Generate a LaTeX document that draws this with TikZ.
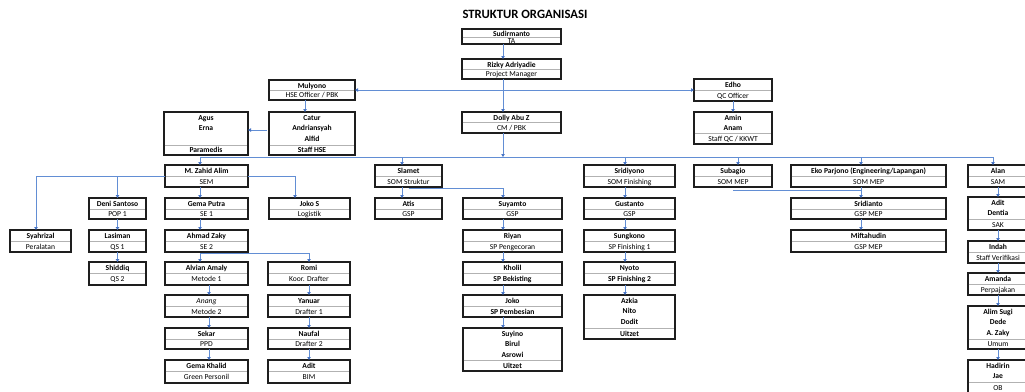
\documentclass[tikz,border=0pt]{standalone}
\usepackage{fontspec}
\setmainfont{Carlito}
\usetikzlibrary{arrows.meta}
\definecolor{conn}{RGB}{98,142,212}
\definecolor{tipc}{RGB}{68,114,196}
\definecolor{bord}{RGB}{30,30,30}
\tikzset{
 obx/.style={draw=bord, line width=1.2pt, fill=white, inner sep=0pt, outer sep=0pt, rectangle},
 splitln/.style={draw=gray!60, line width=0.6pt},
 toptxt/.style={anchor=north, align=center, inner sep=0pt, font=\bfseries\fontsize{7.6}{10.6}\selectfont},
 bottxt/.style={anchor=base, inner sep=0pt, font=\fontsize{7.6}{8.5}\selectfont},
 cn/.style={draw=conn, line width=0.7pt},
 ar/.style={cn, -{Triangle[width=3.4pt,length=3pt,color=tipc]}},
 ttl/.style={font=\bfseries\fontsize{12.7}{14}\selectfont, inner sep=0pt}
}
\def\topoff{1.8}
\newcommand\obox[8]{%
  \node[obx, minimum width={(#4-#2)*1pt}, minimum height={(#5-#3)*1pt}] (#1) at ({(#2+#4)/2},{(#3+#5)/2}) {};
  \draw[splitln] ({#2+0.6},#6) -- ({#4-0.6},#6);
  \node[toptxt] (#1t) at ({(#2+#4)/2},{#3+\topoff}) {\rule{0pt}{6pt}#7};
  \node[bottxt] (#1b) at ({(#2+#4)/2},{(#6+#5)/2+2.5}) {#8};
}
\begin{document}
\begin{tikzpicture}[x=1pt,y=-1pt]
\path[use as bounding box] (0,0) rectangle (1025,391);
\clip (0,0) rectangle (1025,391);

\node[ttl] (title) at (525,14) {STRUKTUR ORGANISASI};

% top
\def\topoff{0.9}
\obox{sud}{462}{29}{561}{44}{37}{Sudirmanto}{TA}
\def\topoff{1.8}
\obox{rizky}{462}{59}{561}{79}{69}{Rizky Adriyadie}{Project Manager}
\obox{mul}{269}{80}{355}{100}{90}{Mulyono}{HSE Officer / PBK}
\obox{edho}{694}{79}{772}{101}{90}{Edho}{QC Officer}
\obox{catur}{269}{112}{355}{155}{145}{Catur\\Andriansyah\\Alfid}{\textbf{Staff HSE}}
\obox{agus}{164}{112}{248}{155}{145}{Agus\\Erna}{\textbf{Paramedis}}
\obox{dolly}{462}{112}{561}{133}{122}{Dolly Abu Z}{CM / PBK}
\obox{amin}{694}{112}{772}{144}{133}{Amin\\Anam}{Staff QC / KKWT}

% row 2
\obox{zahid}{165}{165}{248}{187}{176}{M. Zahid Alim}{SEM}
\obox{slamet}{375}{165}{442}{187}{176}{Slamet}{SOM Struktur}
\obox{sridiyono}{584}{165}{675}{187}{176}{Sridiyono}{SOM Finishing}
\obox{subagio}{694}{165}{772}{187}{176}{Subagio}{SOM MEP}
\obox{eko}{791}{165}{946}{187}{176}{Eko Parjono (Engineering/Lapangan)}{SOM MEP}
\obox{alan}{968}{165}{1028}{187}{176}{Alan}{SAM}

% row 3
\obox{deni}{89}{198}{146}{219}{209}{Deni Santoso}{POP 1}
\obox{gema}{165}{198}{248}{219}{209}{Gema Putra}{SE 1}
\obox{jokos}{269}{198}{350}{219}{209}{Joko S}{Logistik}
\obox{atis}{375}{198}{442}{219}{209}{Atis}{GSP}
\obox{suyamto}{463}{198}{562}{219}{209}{Suyamto}{GSP}
\obox{gustanto}{584}{198}{675}{219}{209}{Gustanto}{GSP}
\obox{sridianto}{791}{198}{946}{219}{209}{Sridianto}{GSP MEP}
\obox{adit}{968}{197}{1028}{230}{219}{Adit\\Dentia}{SAK}

% row 4
\obox{syahrizal}{10}{230}{71}{252}{241}{Syahrizal}{Peralatan}
\obox{lasiman}{89}{230}{146}{252}{241}{Lasiman}{QS 1}
\obox{ahmad}{165}{230}{248}{252}{241}{Ahmad Zaky}{SE 2}
\obox{riyan}{463}{230}{562}{252}{241}{Riyan}{SP Pengecoran}
\obox{sungkono}{584}{230}{675}{252}{241}{Sungkono}{SP Finishing 1}
\obox{miftahudin}{791}{230}{946}{252}{241}{Miftahudin}{GSP MEP}
\obox{indah}{968}{241}{1028}{263}{252}{Indah}{Staff Verifikasi}

% row 5
\obox{shiddiq}{89}{262}{146}{285}{273}{Shiddiq}{QS 2}
\obox{alvian}{165}{262}{248}{285}{273}{Alvian Amaly}{Metode 1}
\obox{romi}{268}{262}{350}{285}{273}{Romi}{Koor. Drafter}
\obox{kholil}{463}{262}{562}{285}{273}{Kholil}{\textbf{SP Bekisting}}
\obox{nyoto}{584}{262}{675}{285}{273}{Nyoto}{\textbf{SP Finishing 2}}
\obox{amanda}{968}{273}{1028}{295}{284}{Amanda}{Perpajakan}

% row 6
\obox{anang}{165}{295}{248}{317}{306}{\mdseries\itshape Anang}{Metode 2}
\obox{yanuar}{268}{295}{350}{317}{306}{Yanuar}{Drafter 1}
\obox{joko}{463}{295}{562}{317}{306}{Joko}{\textbf{SP Pembesian}}
\obox{azkia}{584}{295}{675}{339}{328}{Azkia\\Nito\\Dodit}{\textbf{Uitzet}}
\obox{alim}{968}{306}{1028}{349}{339}{Alim Sugi\\Dede\\A. Zaky}{Umum}

% row 7
\obox{sekar}{165}{328}{248}{349}{339}{Sekar}{PPD}
\obox{naufal}{268}{328}{350}{349}{339}{Naufal}{Drafter 2}
\obox{suyino}{463}{328}{562}{371}{360}{Suyino\\Birul\\Asrowi}{\textbf{Uitzet}}

% row 8
\obox{gemak}{165}{360}{248}{383}{371}{Gema Khalid}{Green Personil}
\obox{adit2}{268}{360}{350}{383}{371}{Adit}{BIM}
\obox{hadirin}{968}{360}{1028}{393}{382}{Hadirin\\Jae}{OB}

% reference coordinates
\coordinate (spine) at (503,0);
\coordinate (bus) at (0,157);
\coordinate (cH) at (305,0);
\coordinate (cZ) at (200,0);
\coordinate (cZb) at (209,0);
\coordinate (cSy) at (36,0);
\coordinate (cJ) at (295,0);
\coordinate (cS) at (402,0);
\coordinate (cF) at (625,0);
\coordinate (cSb) at (738,0);
\coordinate (cE) at (861,0);
\coordinate (cA) at (993,0);

% connectors top
\draw[ar] (spine |- sud.south) -- (spine |- rizky.north);
\draw[ar] (spine |- rizky.south) -- (spine |- dolly.north);
\draw[ar] (spine |- mul.east) -- (mul.east);
\draw[ar] (spine |- edho.west) -- (edho.west);
\draw[ar] (cH |- mul.south) -- (cH |- catur.north);
\draw[ar] ([xshift=-2pt,yshift=3.5pt]catur.west) -- ([yshift=3.5pt]agus.east);
\draw[ar] (edho.south) -- (amin.north);

% bus
\draw[cn] (cZ |- bus) -- (cA |- bus);
\draw[ar] (spine |- dolly.south) -- (spine |- bus);
\draw[ar] (cZ |- bus) -- (cZ |- zahid.north);
\draw[ar] (cS |- bus) -- (cS |- slamet.north);
\draw[ar] (cF |- bus) -- (cF |- sridiyono.north);
\draw[ar] (cSb |- bus) -- (cSb |- subagio.north);
\draw[ar] (cE |- bus) -- (cE |- eko.north);
\draw[ar] (cA |- bus) -- (cA |- alan.north);

% zahid branch
\draw[ar] (zahid.west) -| (cSy |- syahrizal.north);
\draw[ar] (deni.north |- zahid.west) -- (deni.north);
\draw[ar] (zahid.east) -| (cJ |- jokos.north);
\draw[ar] (cZ |- zahid.south) -- (cZ |- gema.north);
\draw[ar] (deni.south) -- (lasiman.north);
\draw[ar] (lasiman.south) -- (shiddiq.north);
\draw[ar] (cZ |- gema.south) -- (cZ |- ahmad.north);
\draw[ar] ([yshift=-1pt]cZ |- ahmad.south) -- (cZ |- alvian.north);
\draw[ar] ([yshift=-1pt]cZ |- ahmad.south) -| (romi.north);
\draw[ar] (cZb |- alvian.south) -- (cZb |- anang.north);
\draw[ar] (cZb |- anang.south) -- (cZb |- sekar.north);
\draw[ar] (cZb |- sekar.south) -- (cZb |- gemak.north);
\draw[ar] (romi.south) -- (yanuar.north);
\draw[ar] (yanuar.south) -- (naufal.north);
\draw[ar] (naufal.south) -- (adit2.north);

% slamet branch
\draw[ar] (cS |- slamet.south) -- (cS |- atis.north);
\draw[ar] ([yshift=-1pt]slamet.south) -| (spine |- suyamto.north);
\draw[ar] (spine |- suyamto.south) -- (spine |- riyan.north);
\draw[ar] (spine |- riyan.south) -- (spine |- kholil.north);
\draw[ar] (spine |- kholil.south) -- (spine |- joko.north);
\draw[ar] (spine |- joko.south) -- (spine |- suyino.north);

% sridiyono branch
\draw[ar] (cF |- sridiyono.south) -- (cF |- gustanto.north);
\draw[ar] (cF |- gustanto.south) -- (cF |- sungkono.north);
\draw[ar] (cF |- sungkono.south) -- (cF |- nyoto.north);
\draw[ar] (cF |- nyoto.south) -- (cF |- azkia.north);

% MEP
\draw[cn] ([yshift=-3pt]subagio.south) -- ([yshift=-3pt]cE |- subagio.south);
\draw[ar] (cE |- eko.south) -- (cE |- sridianto.north);
\draw[ar] (cE |- sridianto.south) -- (cE |- miftahudin.north);

% alan column
\draw[ar] (alan.south) -- (adit.north);
\draw[ar] (adit.south) -- (indah.north);
\draw[ar] (indah.south) -- (amanda.north);
\draw[ar] (amanda.south) -- (alim.north);
\draw[ar] (alim.south) -- (hadirin.north);
\end{tikzpicture}
\end{document}
